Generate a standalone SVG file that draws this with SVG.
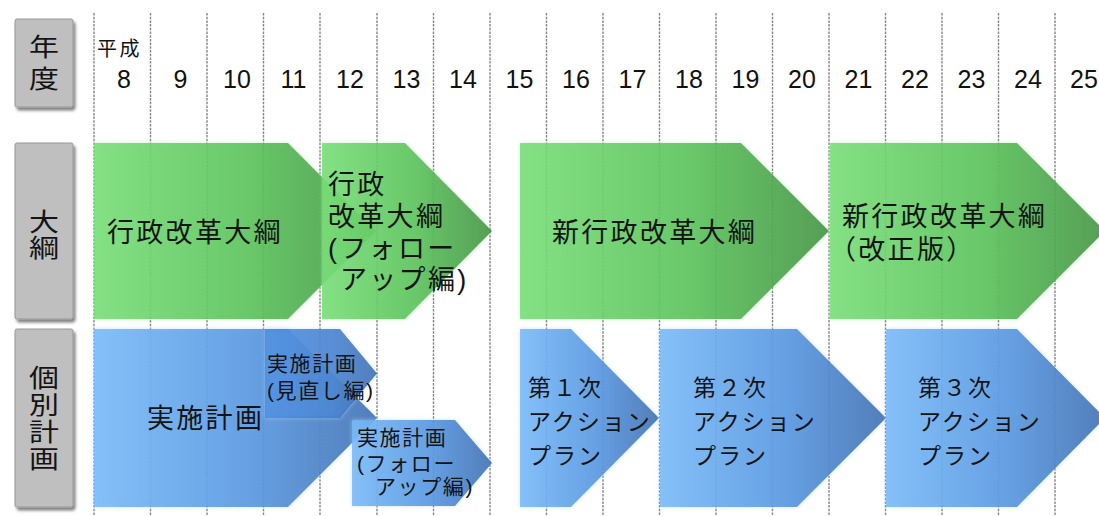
<svg xmlns="http://www.w3.org/2000/svg" width="1099" height="516" viewBox="0 0 1099 516">
<style>
.grid line{stroke:#858585;stroke-width:1.4;stroke-dasharray:2.5 1.2}
.box{fill:#bfbfbf;stroke:#979797;stroke-width:1}
.jp{font-family:"Noto Sans CJK JP","Noto Sans CJK SC",sans-serif;fill:#141414}
.ml{font-family:"Liberation Sans","Noto Sans CJK JP","Noto Sans CJK SC",sans-serif;fill:#141414}
.lbl{font-size:25px;writing-mode:vertical-rl}
.big{font-size:27px;letter-spacing:2.3px}
.mid{font-size:23px;letter-spacing:2px}
.sm{font-size:21px;letter-spacing:1.6px}
.yr{font-family:"Liberation Sans",Arial,sans-serif;font-size:25px;fill:#111;text-anchor:middle}
.g{fill:url(#gg);fill-opacity:0.82;filter:url(#glowG)}
.b{fill:url(#gb);fill-opacity:0.84;filter:url(#glowB)}
.b2{fill:url(#gb2);fill-opacity:0.84;filter:url(#glowB)}
</style>
<defs>
<linearGradient id="gg" x1="0" y1="0" x2="1" y2="0">
<stop offset="0" stop-color="#72dc72"/>
<stop offset="0.55" stop-color="#4cbd4c"/>
<stop offset="1" stop-color="#2a872a"/>
</linearGradient>
<linearGradient id="gb" x1="0" y1="0" x2="1" y2="0">
<stop offset="0" stop-color="#74b8f8"/>
<stop offset="0.55" stop-color="#4a91df"/>
<stop offset="1" stop-color="#2762ab"/>
</linearGradient>
<linearGradient id="gb2" x1="0" y1="0" x2="1" y2="0">
<stop offset="0" stop-color="#3f8ae0"/>
<stop offset="0.6" stop-color="#3479cd"/>
<stop offset="1" stop-color="#2862ac"/>
</linearGradient>
<filter id="shadow" x="-20%" y="-20%" width="150%" height="150%">
<feGaussianBlur in="SourceAlpha" stdDeviation="1.5" result="b"/>
<feOffset in="b" dx="2" dy="2.5" result="o"/>
<feComponentTransfer in="o" result="s"><feFuncA type="linear" slope="0.5"/></feComponentTransfer>
<feMerge><feMergeNode in="s"/><feMergeNode in="SourceGraphic"/></feMerge>
</filter>
<filter id="glowG" x="-5%" y="-5%" width="110%" height="110%">
<feGaussianBlur in="SourceAlpha" stdDeviation="2" result="b"/>
<feFlood flood-color="#a8eca8" flood-opacity="0.7"/>
<feComposite in2="b" operator="in" result="g"/>
<feMerge><feMergeNode in="g"/><feMergeNode in="SourceGraphic"/></feMerge>
</filter>
<filter id="glowB" x="-5%" y="-5%" width="110%" height="110%">
<feGaussianBlur in="SourceAlpha" stdDeviation="2" result="b"/>
<feFlood flood-color="#b0d6fa" flood-opacity="0.7"/>
<feComposite in2="b" operator="in" result="g"/>
<feMerge><feMergeNode in="g"/><feMergeNode in="SourceGraphic"/></feMerge>
</filter>
</defs>

<g id="grid" class="grid">
<line x1="94" y1="13" x2="94" y2="516"/>
<line x1="150.5" y1="13" x2="150.5" y2="516"/>
<line x1="207" y1="13" x2="207" y2="516"/>
<line x1="263.5" y1="13" x2="263.5" y2="516"/>
<line x1="320" y1="13" x2="320" y2="516"/>
<line x1="377" y1="13" x2="377" y2="516"/>
<line x1="433.5" y1="13" x2="433.5" y2="516"/>
<line x1="490" y1="13" x2="490" y2="516"/>
<line x1="546.5" y1="13" x2="546.5" y2="516"/>
<line x1="603" y1="13" x2="603" y2="516"/>
<line x1="659.5" y1="13" x2="659.5" y2="516"/>
<line x1="716" y1="13" x2="716" y2="516"/>
<line x1="772.5" y1="13" x2="772.5" y2="516"/>
<line x1="829" y1="13" x2="829" y2="516"/>
<line x1="885.5" y1="13" x2="885.5" y2="516"/>
<line x1="942" y1="13" x2="942" y2="516"/>
<line x1="998.5" y1="13" x2="998.5" y2="516"/>
<line x1="1055" y1="13" x2="1055" y2="516"/>
</g>

<g id="years">
<text class="jp" x="97" y="56" style="font-size:20px;letter-spacing:2.5px">平成</text>
<text class="yr" x="124" y="88">8</text>
<text class="yr" x="180.5" y="88">9</text>
<text class="yr" x="237" y="88">10</text>
<text class="yr" x="293.5" y="88">11</text>
<text class="yr" x="350" y="88">12</text>
<text class="yr" x="406.5" y="88">13</text>
<text class="yr" x="463" y="88">14</text>
<text class="yr" x="519.5" y="88">15</text>
<text class="yr" x="576" y="88">16</text>
<text class="yr" x="632.5" y="88">17</text>
<text class="yr" x="689" y="88">18</text>
<text class="yr" x="745.5" y="88">19</text>
<text class="yr" x="802" y="88">20</text>
<text class="yr" x="858.5" y="88">21</text>
<text class="yr" x="915" y="88">22</text>
<text class="yr" x="971.5" y="88">23</text>
<text class="yr" x="1028" y="88">24</text>
<text class="yr" x="1084" y="88">25</text>
</g>

<g id="label-nendo">
<rect class="box" x="15" y="19" width="58" height="88" rx="2" filter="url(#shadow)"/>
<text class="jp lbl" transform="translate(44,0) scale(1.2,1)" x="0" y="34" style="letter-spacing:7px">年度</text>
</g>
<g id="label-taiko">
<rect class="box" x="15" y="143" width="58" height="176" rx="2" filter="url(#shadow)"/>
<text class="jp lbl" transform="translate(44,0) scale(1.2,1)" x="0" y="209.5" style="letter-spacing:1px">大綱</text>
</g>
<g id="label-kobetsu">
<rect class="box" x="15" y="329" width="58" height="178" rx="2" filter="url(#shadow)"/>
<text class="jp lbl" transform="translate(44,0) scale(1.2,1)" x="0" y="365.5" style="letter-spacing:1.7px">個別計画</text>
</g>

<g id="taiko1">
<path class="g" d="M94,143 H288 L376,231 L288,319 H94 Z"/>
<text class="jp big" x="107" y="242">行政改革大綱</text>
</g>
<g id="taiko2">
<path class="g" d="M322,143 H405 L492,231 L405,319 H322 Z"/>
<text class="ml big"><tspan x="328" y="194">行政</tspan><tspan x="328" y="226">改革大綱</tspan><tspan x="328" y="258">(フォロー</tspan><tspan x="340" y="289">アップ編)</tspan></text>
</g>
<g id="taiko3">
<path class="g" d="M520,143 H741 L829,231 L741,319 H520 Z"/>
<text class="jp big" x="552" y="242">新行政改革大綱</text>
</g>
<g id="taiko4">
<path class="g" d="M830,143 H1017 L1105,231 L1017,319 H830 Z"/>
<text class="ml big"><tspan x="842" y="226">新行政改革大綱</tspan><tspan x="829" y="259">（改正版）</tspan></text>
</g>

<g id="plan1">
<path class="b" d="M94,329 H288 L377,418 L288,507 H94 Z"/>
<text class="jp big" x="147" y="428">実施計画</text>
</g>
<g id="plan2">
<path class="b2" d="M265,329 H340 L377,373.5 L340,418 H265 Z"/>
<text class="ml sm"><tspan x="267" y="371">実施計画</tspan><tspan x="267" y="398">(見直し編)</tspan></text>
</g>
<g id="plan3">
<path class="b" d="M352,420 H455 L492,463 L455,506 H352 Z"/>
<text class="ml sm"><tspan x="357" y="445">実施計画</tspan><tspan x="357" y="471">(フォロー</tspan><tspan x="375" y="494">アップ編)</tspan></text>
</g>
<g id="action1">
<path class="b" d="M520,329 H571 L659,418 L571,507 H520 Z"/>
<text class="ml mid"><tspan x="528" y="396">第１次</tspan><tspan x="528" y="430">アクション</tspan><tspan x="528" y="464">プラン</tspan></text>
</g>
<g id="action2">
<path class="b" d="M660,329 H797 L886,418 L797,507 H660 Z"/>
<text class="ml mid"><tspan x="693" y="396">第２次</tspan><tspan x="693" y="430">アクション</tspan><tspan x="693" y="464">プラン</tspan></text>
</g>
<g id="action3">
<path class="b" d="M886,329 H1017 L1105,418 L1017,507 H886 Z"/>
<text class="ml mid"><tspan x="918" y="396">第３次</tspan><tspan x="918" y="430">アクション</tspan><tspan x="918" y="464">プラン</tspan></text>
</g>
</svg>
